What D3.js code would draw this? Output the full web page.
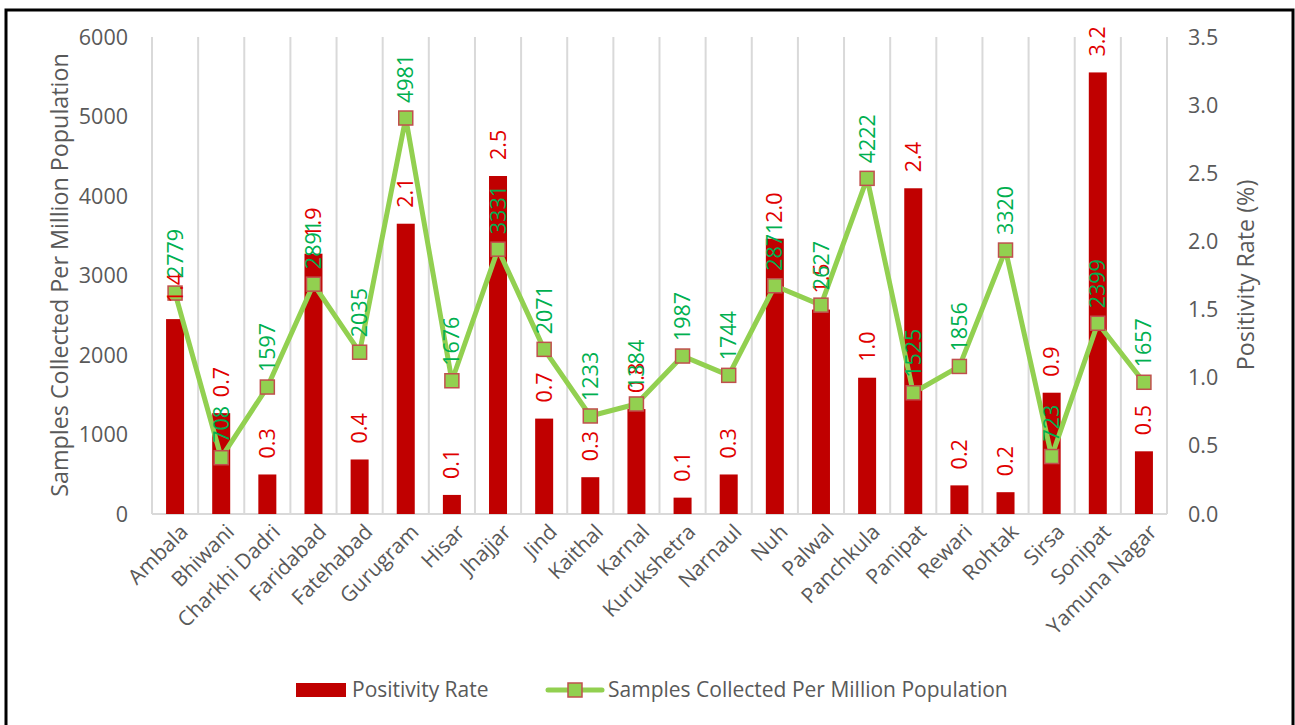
<!DOCTYPE html>
<html>
<head>
<meta charset="utf-8">
<script src="https://cdn.jsdelivr.net/npm/d3@7"></script>
<style>
  body { margin: 0; background: #fff; }
  text { font-family: "Open Sans", sans-serif; }
</style>
</head>
<body>
<div id="chart"></div>
<script>
// district data
const districts = ["Ambala", "Bhiwani", "Charkhi Dadri", "Faridabad", "Fatehabad", "Gurugram", "Hisar",
  "Jhajjar", "Jind", "Kaithal", "Karnal", "Kurukshetra", "Narnaul", "Nuh", "Palwal", "Panchkula",
  "Panipat", "Rewari", "Rohtak", "Sirsa", "Sonipat", "Yamuna Nagar"];
const positivityRate = [1.43, 0.74, 0.29, 1.91, 0.40, 2.13, 0.14, 2.48, 0.70, 0.27, 0.77, 0.12,
  0.29, 2.02, 1.50, 1.00, 2.39, 0.21, 0.16, 0.89, 3.24, 0.46];
const samplesPerMillion = [2779, 708, 1597, 2891, 2035, 4981, 1676, 3331, 2071, 1233, 1384, 1987,
  1744, 2871, 2627, 4222, 1525, 1856, 3320, 723, 2399, 1657];
const leftTicks = [0, 1000, 2000, 3000, 4000, 5000, 6000];
const rightTicks = [0, 0.5, 1.0, 1.5, 2.0, 2.5, 3.0, 3.5];

const W = 1295, H = 725;
const plot = { left: 152, right: 1167, top: 37, bottom: 514 };
const fs = 21.5;

const svg = d3.select("#chart").append("svg")
  .attr("width", W).attr("height", H);

// outer frame
svg.append("rect")
  .attr("x", 6).attr("y", 10).attr("width", 1287).attr("height", 730)
  .attr("fill", "none").attr("stroke", "#000").attr("stroke-width", 3);

const x = d3.scaleBand().domain(districts).range([plot.left, plot.right]).padding(0);
const yL = d3.scaleLinear().domain([0, 6000]).range([plot.bottom, plot.top]);
const yR = d3.scaleLinear().domain([0, 3.5]).range([plot.bottom, plot.top]);

// vertical gridlines at category boundaries
const bounds = districts.map(d => x(d)).concat([plot.right]);
svg.append("g").selectAll("line").data(bounds).join("line")
  .attr("x1", d => d).attr("x2", d => d)
  .attr("y1", plot.top).attr("y2", plot.bottom)
  .attr("stroke", "#d9d9d9").attr("stroke-width", 2);

// category axis line
svg.append("line")
  .attr("x1", plot.left).attr("x2", plot.right)
  .attr("y1", plot.bottom).attr("y2", plot.bottom)
  .attr("stroke", "#d9d9d9").attr("stroke-width", 2);

// left axis
svg.append("g").selectAll("text").data(leftTicks).join("text")
  .attr("x", 128).attr("y", d => yL(d)).attr("dy", "0.35em")
  .attr("text-anchor", "end").attr("fill", "#595959").attr("font-size", fs)
  .text(d => d);

// right axis
svg.append("g").selectAll("text").data(rightTicks).join("text")
  .attr("x", 1188).attr("y", d => yR(d)).attr("dy", "0.35em")
  .attr("text-anchor", "start").attr("fill", "#595959").attr("font-size", fs)
  .text(d => d.toFixed(1));

// axis titles
svg.append("text")
  .attr("transform", "translate(60,275) rotate(-90)")
  .attr("text-anchor", "middle").attr("dy", "0.35em")
  .attr("fill", "#595959").attr("font-size", 23.3)
  .text("Samples Collected Per Million Population");

svg.append("text")
  .attr("transform", "translate(1246,275) rotate(-90)")
  .attr("text-anchor", "middle").attr("dy", "0.35em")
  .attr("fill", "#595959").attr("font-size", 23.3)
  .text("Positivity Rate (%)");

// category labels
svg.append("g").selectAll("text").data(districts).join("text")
  .attr("transform", d => `translate(${x(d) + x.bandwidth() / 2 + 9},528) rotate(-45)`)
  .attr("text-anchor", "end").attr("dy", "0.35em")
  .attr("fill", "#595959").attr("font-size", 21)
  .text(d => d);

// bars
const barW = 18;
const rows = districts.map((d, i) => ({ name: d, rate: positivityRate[i], samples: samplesPerMillion[i] }));

svg.append("g").selectAll("rect").data(rows).join("rect")
  .attr("x", d => x(d.name) + x.bandwidth() / 2 - barW / 2)
  .attr("y", d => yR(d.rate))
  .attr("width", barW)
  .attr("height", d => plot.bottom - yR(d.rate))
  .attr("fill", "#c00000");

// line
const line = d3.line()
  .x(d => x(d.name) + x.bandwidth() / 2)
  .y(d => yL(d.samples));

svg.append("path").datum(rows)
  .attr("d", line)
  .attr("fill", "none").attr("stroke", "#92d050").attr("stroke-width", 5)
  .attr("stroke-linejoin", "round");

svg.append("g").selectAll("rect").data(rows).join("rect")
  .attr("x", d => x(d.name) + x.bandwidth() / 2 - 7)
  .attr("y", d => yL(d.samples) - 7)
  .attr("width", 14).attr("height", 14)
  .attr("fill", "#92d050").attr("stroke", "#c0504d").attr("stroke-width", 1.5);

// bar labels
svg.append("g").selectAll("text").data(rows).join("text")
  .attr("transform", d => `translate(${x(d.name) + x.bandwidth() / 2},${yR(d.rate) - 16}) rotate(-90)`)
  .attr("dy", "0.35em").attr("text-anchor", "start")
  .attr("fill", "#e00000").attr("font-size", fs)
  .text(d => d.rate.toFixed(1));

// line labels
svg.append("g").selectAll("text").data(rows).join("text")
  .attr("transform", d => `translate(${x(d.name) + x.bandwidth() / 2},${yL(d.samples) - 15}) rotate(-90)`)
  .attr("dy", "0.35em").attr("text-anchor", "start")
  .attr("fill", "#00b050").attr("font-size", fs)
  .text(d => d.samples);

// legend
const lg = svg.append("g").attr("font-size", 21).attr("fill", "#595959");
lg.append("rect").attr("x", 296).attr("y", 683).attr("width", 50).attr("height", 14).attr("fill", "#c00000");
lg.append("text").attr("x", 352).attr("y", 690).attr("dy", "0.35em").text("Positivity Rate");
lg.append("line").attr("x1", 548).attr("x2", 602).attr("y1", 690).attr("y2", 690)
  .attr("stroke", "#92d050").attr("stroke-width", 5).attr("stroke-linecap", "round");
lg.append("rect").attr("x", 568).attr("y", 683).attr("width", 14).attr("height", 14)
  .attr("fill", "#92d050").attr("stroke", "#c0504d").attr("stroke-width", 1.5);
lg.append("text").attr("x", 608).attr("y", 690).attr("dy", "0.35em").text("Samples Collected Per Million Population");
</script>
</body>
</html>
